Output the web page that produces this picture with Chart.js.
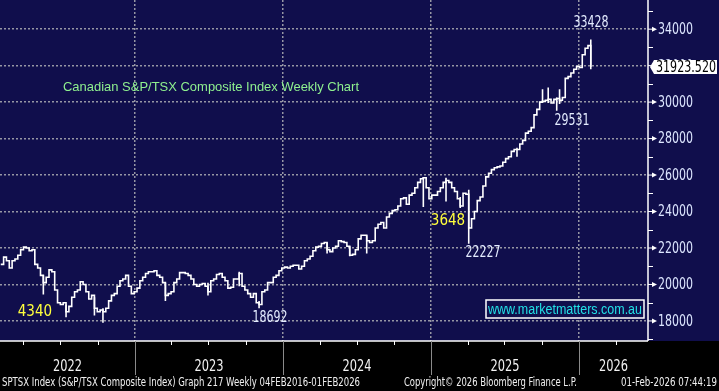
<!DOCTYPE html>
<html>
<head>
<meta charset="utf-8">
<script src="https://cdn.jsdelivr.net/npm/chart.js@4.4.1/dist/chart.umd.min.js"></script>
<style>
  html, body { margin: 0; padding: 0; background: #000; overflow: hidden; }
  canvas { display: block; }
</style>
</head>
<body>
<canvas id="chart" width="719" height="391"></canvas>
<script>
// weekly closes, S&P/TSX Composite, week 0 = 04 Feb 2022
const START = [2022, 1, 4];
const closes = [
  21100, 21500, 21300, 20900, 21300, 21400, 21600, 21900, 22050, 22000,
  21850, 21900, 21100, 20900, 20500, 20100, 20400, 20800, 20700, 19700,
  19000, 18900, 19000, 18500, 18800, 19300, 19600, 19700, 20150, 20000,
  19600, 19200, 19400, 18700, 18500, 18600, 18500, 18700, 19100, 19400,
  19500, 19900, 20200, 20300, 20500, 19900, 19500, 19600, 19800, 20200,
  20400, 20600, 20700, 20700, 20750, 20500, 20400, 20100, 19400, 19500,
  19600, 20100, 20300, 20650, 20650, 20600, 20500, 20300, 20000, 19900,
  20000, 20050, 19900, 19600, 20200, 20300, 20550, 20600, 20400, 20200,
  19800, 19850, 20300, 20300, 20600, 19900, 19700, 19500, 19300, 19500,
  19000, 18900, 19600, 19700, 20100, 20100, 20400, 20500, 20750, 20900,
  20950, 20900, 21000, 21050, 21050, 20850, 21000, 21300, 21400, 21550,
  21850, 22050, 22100, 22250, 22300, 21900, 21800, 22000, 22100, 22400,
  22350, 22300, 22100, 21600, 21650, 21900, 22500, 22700, 22700, 22400,
  22300, 22400, 23100, 23300, 23400, 23100, 23700, 23900, 24050, 24100,
  24300, 24700, 24750, 24400, 24900, 25000, 25300, 25600, 25800, 25850,
  25300, 24700, 24900, 24900, 25100, 25300, 25600, 25700, 25600, 25300,
  25100, 24700, 24300, 25000, 24950, 23100, 23600, 24000, 24600, 24800,
  25400, 25900, 26100, 26300, 26400, 26450, 26500, 26700, 26900, 27000,
  27300, 27400, 27400, 27700, 27900, 28300, 28400, 28600, 29300, 29600,
  30000, 30050, 30100, 30150, 29950, 30150, 30200, 30100, 30250, 31300,
  31400, 31600, 31800, 31950, 31900, 32600, 32950, 33100, 31923.52
];
// [week, low, high] for the weeks whose range sticks out
const wicks = [
  [15, 19450, 20500], [23, 18200, 18900], [33, 18300, 19300], [36, 17900, 18700],
  [58, 19100, 20100], [73, 19400, 20100], [84, 19900, 20700], [91, 18692, 19100],
  [115, 21700, 22300], [123, 21550, 22100], [129, 21700, 22700], [149, 24250, 25900],
  [157, 24550, 25850], [162, 24200, 24800], [165, 22227, 25200], [182, 27000, 27500],
  [191, 29950, 30700], [193, 29950, 30800], [196, 29531, 30250], [197, 29900, 30700],
  [208, 31800, 33428]
];
const years = [2022, 2023, 2024, 2025, 2026];
const yTicks = [18000, 20000, 22000, 24000, 26000, 28000, 30000, 32000, 34000];
const yMinor = [17000, 19000, 21000, 23000, 25000, 27000, 29000, 31000, 33000, 35000];
const notes = [
  { text: "33428", x: 2026.081, y: 34339, color: "#e4ecff" },
  { text: "29531", x: 2025.953, y: 28964, color: "#e4ecff" },
  { text: "3648", x: 2025.115, y: 23480, color: "#ffff3c" },
  { text: "22227", x: 2025.352, y: 21725, color: "#e4ecff" },
  { text: "4340", x: 2022.324, y: 18490, color: "#ffff3c" },
  { text: "18692", x: 2023.912, y: 18161, color: "#e4ecff" }
];
const TITLE = "Canadian S&P/TSX Composite Index Weekly Chart";
const FOOT_L = "SPTSX Index (S&P/TSX Composite Index) Graph 217 Weekly 04FEB2016-01FEB2026";
const FOOT_C = "Copyright\u00a9 2026 Bloomberg Finance L.P.";
const FOOT_R = "01-Feb-2026 07:44:19";
const SITE = "www.marketmatters.com.au";

const NAVY = "#100e4c";
const GRID = "#9696a4";
const NARROW = '"Liberation Sans Narrow", "Arial Narrow", "DejaVu Sans Condensed", sans-serif';
const X_MIN = 2022.088, X_MAX = 2026.466;

function dateYear(y, m, d) {
  const t = new Date(y, m, d), y0 = new Date(t.getFullYear(), 0, 1), y1 = new Date(t.getFullYear() + 1, 0, 1);
  return t.getFullYear() + (t - y0) / (y1 - y0);
}
const weekYear = (i) => dateYear(START[0], START[1], START[2] + 7 * i);

const closePts = closes.map((c, i) => ({ x: weekYear(i), y: c }));
const wickPts = [];
wicks.forEach(([w, lo, hi]) => {
  wickPts.push({ x: weekYear(w), y: lo }, { x: weekYear(w), y: hi }, { x: weekYear(w), y: null });
});

function txt(ctx, s, x, y, font, color, align, maxW) {
  ctx.font = font;
  ctx.fillStyle = color;
  ctx.textAlign = align;
  ctx.textBaseline = "middle";
  if (maxW) ctx.fillText(s, x, y, maxW); else ctx.fillText(s, x, y);
}

const backdrop = {
  id: "backdrop",
  beforeDraw(chart) {
    const { ctx, chartArea: a, width, height } = chart;
    ctx.save();
    ctx.fillStyle = "#000";
    ctx.fillRect(0, 0, width, height);
    ctx.fillStyle = NAVY;
    ctx.fillRect(0, 0, width, a.bottom);
    ctx.restore();
  }
};

const decor = {
  id: "decor",
  afterDraw(chart) {
    const { ctx, chartArea: a, scales: { x, y } } = chart;
    ctx.save();
    // axis lines
    ctx.strokeStyle = "#fff";
    ctx.lineWidth = 1.5;
    ctx.beginPath();
    ctx.moveTo(0, a.bottom); ctx.lineTo(a.right, a.bottom);
    ctx.moveTo(a.right, 0); ctx.lineTo(a.right, a.bottom);
    ctx.stroke();

    // y minor ticks
    ctx.lineWidth = 1;
    yMinor.forEach((v) => {
      const py = Math.round(y.getPixelForValue(v)) + 0.5;
      ctx.beginPath(); ctx.moveTo(a.right, py); ctx.lineTo(a.right + 5, py); ctx.stroke();
    });
    // y major ticks with markers and labels
    yTicks.forEach((v) => {
      const py = y.getPixelForValue(v);
      ctx.strokeStyle = "#fff";
      ctx.beginPath(); ctx.moveTo(a.right, py); ctx.lineTo(a.right + 5, py); ctx.stroke();
      ctx.fillStyle = "#fff";
      ctx.beginPath();
      ctx.moveTo(a.right + 4, py - 2.5); ctx.lineTo(a.right + 9, py); ctx.lineTo(a.right + 4, py + 2.5);
      ctx.closePath(); ctx.fill();
      txt(ctx, String(v), a.right + 10, py + 1, "15px " + NARROW, "#dde6ff", "left", 35);
    });

    // x quarter ticks, year separators and labels
    years.forEach((yr) => {
      [[3, 1], [6, 1], [9, 1]].forEach(([m, d]) => {
        const v = dateYear(yr, m, d);
        if (v < X_MIN || v > X_MAX) return;
        const px = Math.round(x.getPixelForValue(v)) + 0.5;
        ctx.strokeStyle = "#fff"; ctx.lineWidth = 1;
        ctx.beginPath(); ctx.moveTo(px, a.bottom); ctx.lineTo(px, a.bottom + 4); ctx.stroke();
      });
      if (yr > X_MIN && yr < X_MAX) {
        const px = Math.round(x.getPixelForValue(yr)) + 0.5;
        ctx.strokeStyle = "#8a8a8a"; ctx.lineWidth = 1;
        ctx.beginPath(); ctx.moveTo(px, a.bottom); ctx.lineTo(px, a.bottom + 34); ctx.stroke();
      }
      const l = x.getPixelForValue(Math.max(yr, X_MIN));
      const r = x.getPixelForValue(Math.min(yr + 1, X_MAX));
      txt(ctx, String(yr), (l + r) / 2, a.bottom + 26, "16px " + NARROW, "#f2f2f2", "center", 29);
    });

    // annotations
    notes.forEach((n) => {
      txt(ctx, n.text, x.getPixelForValue(n.x), y.getPixelForValue(n.y), "15px " + NARROW, n.color, "center", 35);
    });

    // title
    txt(ctx, TITLE, 63, 87, "13px Arial, 'Liberation Sans', sans-serif", "#8ff08f", "left", 296);

    // website box
    ctx.fillStyle = NAVY;
    ctx.fillRect(486, 300, 158, 18);
    ctx.strokeStyle = "#fff"; ctx.lineWidth = 1.5;
    ctx.strokeRect(486, 300, 158, 18);
    txt(ctx, SITE, 565, 310, "14px Arial, 'Liberation Sans', sans-serif", "#22e0e6", "center", 154);

    // last price flag
    const last = closes[closes.length - 1];
    const py = y.getPixelForValue(last);
    ctx.fillStyle = "#fff";
    ctx.beginPath();
    ctx.moveTo(a.right + 2, py); ctx.lineTo(a.right + 6, py - 7); ctx.lineTo(717, py - 7);
    ctx.lineTo(717, py + 7); ctx.lineTo(a.right + 6, py + 7); ctx.closePath(); ctx.fill();
    txt(ctx, last.toFixed(3), a.right + 8, py + 1, "15px " + NARROW, "#000", "left", 60);

    // footer
    const fy = 383;
    txt(ctx, FOOT_L, 2, fy, "12px " + NARROW, "#f0f0f0", "left", 358);
    txt(ctx, FOOT_C, 404, fy, "12px " + NARROW, "#f0f0f0", "left", 173);
    txt(ctx, FOOT_R, 717, fy, "12px " + NARROW, "#f0f0f0", "right", 96);
    ctx.restore();
  }
};

new Chart(document.getElementById("chart"), {
  type: "line",
  data: {
    datasets: [
      { data: closePts, stepped: "before", borderColor: "#fff", borderWidth: 1.6, pointRadius: 0 },
      { data: wickPts, borderColor: "#fff", borderWidth: 1.6, pointRadius: 0, spanGaps: false }
    ]
  },
  options: {
    responsive: false,
    animation: false,
    devicePixelRatio: 1,
    layout: { padding: 0 },
    plugins: { legend: { display: false }, tooltip: { enabled: false } },
    scales: {
      x: {
        type: "linear", min: X_MIN, max: X_MAX,
        afterBuildTicks: (s) => { s.ticks = years.filter((v) => v > X_MIN).map((v) => ({ value: v })); },
        afterFit: (s) => { s.height = 50; },
        ticks: { display: false },
        grid: { color: GRID, lineWidth: 1.5, drawTicks: false },
        border: { display: false, dash: [2, 2] }
      },
      y: {
        position: "right", min: 16900, max: 35600,
        afterBuildTicks: (s) => { s.ticks = yTicks.map((v) => ({ value: v })); },
        afterFit: (s) => { s.width = 71; },
        ticks: { display: false },
        grid: { color: GRID, lineWidth: 1.5, drawTicks: false },
        border: { display: false, dash: [2, 2] }
      }
    }
  },
  plugins: [backdrop, decor]
});
</script>
</body>
</html>
